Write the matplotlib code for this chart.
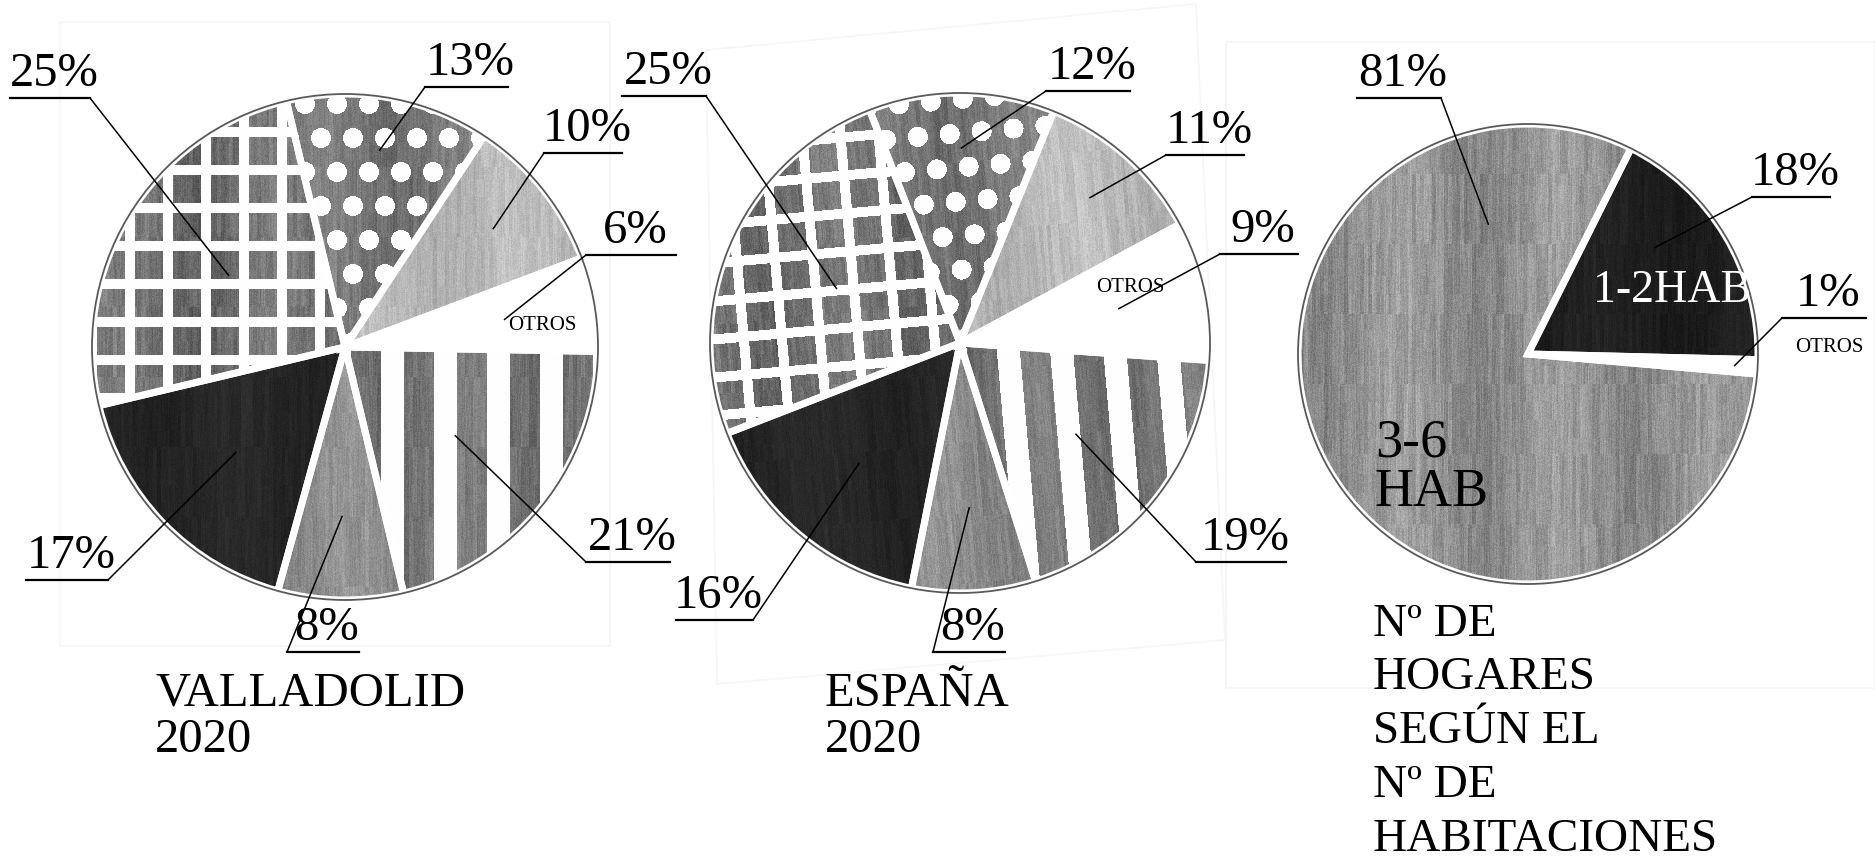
import numpy as np
import matplotlib.pyplot as plt
from matplotlib.patches import Circle, Polygon

W, H = 1875, 868
SERIF = "Liberation Serif"

# datos (porcentajes)
valladolid_pct = [6, 10, 13, 25, 17, 8, 21]
espana_pct = [9, 11, 12, 25, 16, 8, 19]
hab_pct = [1, 18, 81]
hab_names = ["OTROS", "1-2HAB", "3-6\nHAB"]
titles = ["VALLADOLID\n2020", "ESPAÑA\n2020",
          "Nº DE\nHOGARES\nSEGÚN EL\nNº DE\nHABITACIONES"]

# estilos: (textura, gris base, amplitud de veta)
styles_a = [("plain", 1.0, 0.0), ("grain", 0.72, 0.16), ("dots", 0.47, 0.18),
            ("grid", 0.44, 0.2), ("grain", 0.15, 0.07), ("grain", 0.54, 0.18),
            ("stripes", 0.46, 0.18)]
styles_b = [("plain", 1.0, 0.0), ("grain", 0.12, 0.07), ("grain", 0.57, 0.22)]

# geometria: centro x, centro y, radio, angulo inicial, giro de textura
geom = [(345, 347, 253, -1, 0), (960, 343, 250, -4, -5), (1528, 354, 230, -5, 0)]

# etiquetas: x0, x1 del subrayado, y, lado de la guia, radio ancla, angulo forzado
labs_1 = [(586, 676, 255, "L", 0.64, None), (544, 622, 153, "L", 0.75, None),
          (425, 508, 87, "L", 0.79, None), (10, 90, 98, "R", 0.54, None),
          (26, 108, 580, "R", 0.60, None), (287, 359, 652, "L", 0.67, None),
          (586, 670, 562, "L", 0.56, None)]
labs_2 = [(1220, 1298, 254, "L", 0.65, None), (1166, 1244, 155, "L", 0.78, None),
          (1046, 1130, 91, "L", 0.78, None), (622, 706, 96, "R", 0.54, None),
          (676, 753, 620, "R", 0.63, None), (933, 1005, 652, "L", 0.66, None),
          (1196, 1286, 562, "L", 0.59, None)]
labs_3 = [(1782, 1866, 318, "L", 0.90, None), (1752, 1830, 197, "L", 0.72, 40),
          (1357, 1441, 98, "R", 0.59, 107)]

# bordes tenues del papel escaneado
papers = [[(60, 22), (610, 22), (610, 646), (60, 646)],
          [(706, 50), (1196, 4), (1225, 640), (717, 684)],
          [(1226, 42), (1875, 42), (1875, 688), (1226, 688)]]

fig = plt.figure(figsize=(W / 100, H / 100), dpi=100)
ax = fig.add_axes([0, 0, 1, 1])
ax.axis("off")

for p in papers:
    ax.add_patch(Polygon(p, closed=True, fill=False, edgecolor="0.96", lw=1.2,
                         zorder=0))


def hsh(a, b):
    return (np.sin(a * 12.9898 + b * 78.233) * 43758.5453) % 1.0


def texture(kind, base, amp, cx, cy, R, rot, k):
    x0, x1 = int(cx - R - 4), int(cx + R + 4)
    y0, y1 = int(cy - R - 4), int(cy + R + 4)
    xx, yy = np.meshgrid(np.arange(x0, x1) + 0.5, np.arange(y0, y1) + 0.5)
    a = np.deg2rad(rot)
    u = (xx - cx) * np.cos(a) + (yy - cy) * np.sin(a) + 600
    v = -(xx - cx) * np.sin(a) + (yy - cy) * np.cos(a) + 600
    # veta de madera: rayas verticales + moteado
    g = (0.45 * (hsh(np.floor(u / 4) + k, np.floor(v / 70)) - 0.5)
         + 0.35 * (hsh(np.floor(u) + 3 * k, np.floor(v / 18)) - 0.5)
         + 0.45 * (hsh(u + k, v) - 0.5)
         + 0.25 * np.sin(0.04 * u + k))
    img = base + amp * g
    if kind == "grid":
        white = ((u % 38) < 10) | ((v % 38) < 10)
    elif kind == "dots":
        row = np.floor(v / 34)
        du = ((u - (row % 2) * 16) % 32) - 16
        dv = (v % 34) - 17
        white = du ** 2 + dv ** 2 < 100
    elif kind == "stripes":
        white = (u % 53) < 23
    else:
        white = np.zeros(u.shape, bool)
    img = np.where(white, 0.995, img)
    return np.clip(img, 0, 1), (x0, x1, y1, y0)


def draw_pie(vals, styles, g, labs, k0):
    cx, cy, R, start, rot = g
    wedges, _ = ax.pie(vals, center=(cx, cy), radius=R, startangle=-start,
                       counterclock=False, colors=[str(s[1]) for s in styles],
                       wedgeprops=dict(linewidth=0, zorder=1))
    for i, (w, st) in enumerate(zip(wedges, styles)):
        if st[0] == "plain":
            continue
        img, ext = texture(st[0], st[1], st[2], cx, cy, R, rot, k0 + i * 1.7)
        im = ax.imshow(img, extent=ext, cmap="gray", vmin=0, vmax=1,
                       interpolation="nearest", zorder=2)
        im.set_clip_path(w)
    ax.pie(vals, center=(cx, cy), radius=R, startangle=-start, counterclock=False,
           wedgeprops=dict(facecolor="none", edgecolor="white", linewidth=5, zorder=3))
    ax.add_patch(Circle((cx, cy), R, fill=False, edgecolor="0.35", lw=1.3, zorder=4))

    for w, v, (x0, x1, yl, side, rf, ang) in zip(wedges, vals, labs):
        th = np.deg2rad((w.theta1 + w.theta2) / 2 if ang is None else -ang)
        px, py = cx + rf * R * np.cos(th), cy + rf * R * np.sin(th)
        ex = x0 if side == "L" else x1
        ax.plot([x0, x1], [yl, yl], color="black", lw=1.6, zorder=5)
        ax.plot([ex, px], [yl, py], color="black", lw=1.1, zorder=5)
        ax.text((x0 + x1) / 2 + 4, yl - 12, f"{v}%", ha="center", va="baseline",
                fontsize=35, family=SERIF, zorder=6)
    return wedges


draw_pie(valladolid_pct, styles_a, geom[0], labs_1, 0.3)
draw_pie(espana_pct, styles_a, geom[1], labs_2, 2.1)
draw_pie(hab_pct, styles_b, geom[2], labs_3, 4.4)

# textos pequenos "OTROS"
for x, y in [(542, 325), (1130, 287), (1829, 347)]:
    ax.text(x, y, hab_names[0], ha="center", va="center", fontsize=15,
            family=SERIF, zorder=6)
ax.text(1672, 291, hab_names[1], ha="center", va="center", fontsize=33,
        family=SERIF, color="white", zorder=6)
ax.text(1375, 468, hab_names[2], ha="left", va="center", fontsize=39,
        family=SERIF, linespacing=0.95, zorder=6)

# titulos
ax.text(155, 672, titles[0], ha="left", va="top", fontsize=35, family=SERIF,
        linespacing=1.05)
ax.text(825, 672, titles[1], ha="left", va="top", fontsize=35, family=SERIF,
        linespacing=1.05)
ax.text(1373, 603, titles[2], ha="left", va="top", fontsize=34, family=SERIF,
        linespacing=1.35)

ax.set_xlim(0, W)
ax.set_ylim(H, 0)
ax.set_aspect("auto")
fig.savefig("out.png", dpi=100)
